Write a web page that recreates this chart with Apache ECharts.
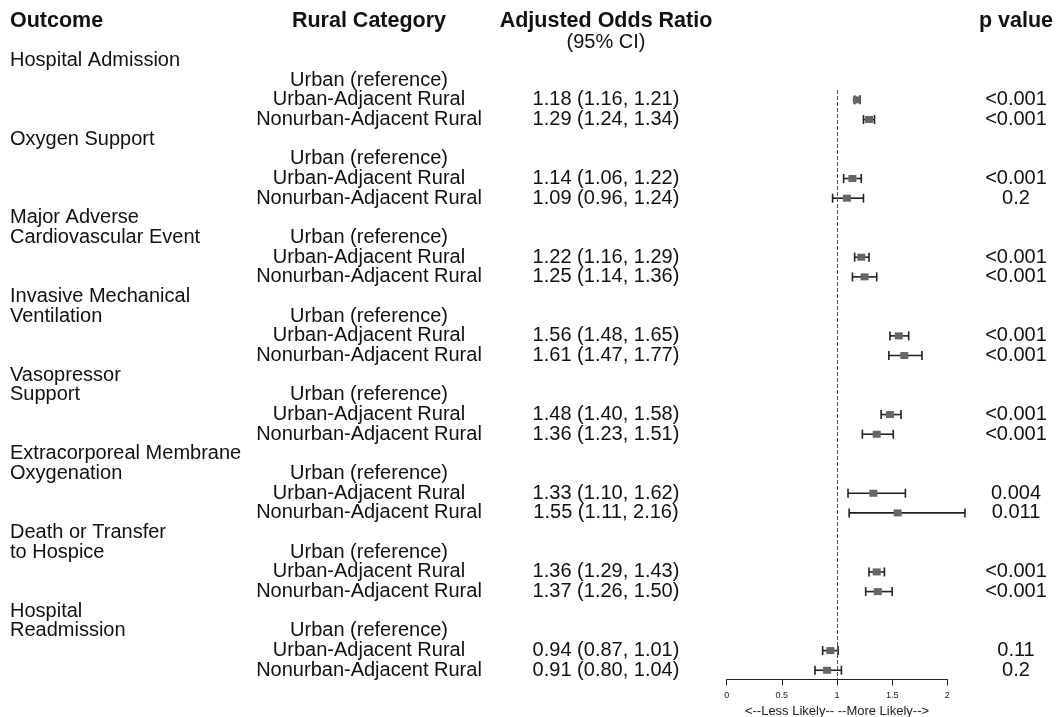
<!DOCTYPE html>
<html>
<head>
<meta charset="utf-8">
<script src="https://cdn.jsdelivr.net/npm/echarts@6/dist/echarts.min.js"></script>
<style>
html,body{margin:0;padding:0;background:#fff;}
#main{width:1057px;height:717px;}
</style>
</head>
<body>
<div id="main"></div>
<script>
// ---------- data ----------
const outcomes = [
  ["Hospital Admission"],
  ["Oxygen Support"],
  ["Major Adverse", "Cardiovascular Event"],
  ["Invasive Mechanical", "Ventilation"],
  ["Vasopressor", "Support"],
  ["Extracorporeal Membrane", "Oxygenation"],
  ["Death or Transfer", "to Hospice"],
  ["Hospital", "Readmission"]
];
const categories = ["Urban (reference)", "Urban-Adjacent Rural", "Nonurban-Adjacent Rural"];
const orUA = [1.18, 1.14, 1.22, 1.56, 1.48, 1.33, 1.36, 0.94];
const loUA = [1.16, 1.06, 1.16, 1.48, 1.40, 1.10, 1.29, 0.87];
const hiUA = [1.21, 1.22, 1.29, 1.65, 1.58, 1.62, 1.43, 1.01];
const pUA  = ["<0.001", "<0.001", "<0.001", "<0.001", "<0.001", "0.004", "<0.001", "0.11"];
const orNU = [1.29, 1.09, 1.25, 1.61, 1.36, 1.55, 1.37, 0.91];
const loNU = [1.24, 0.96, 1.14, 1.47, 1.23, 1.11, 1.26, 0.80];
const hiNU = [1.34, 1.24, 1.36, 1.77, 1.51, 2.16, 1.50, 1.04];
const pNU  = ["<0.001", "0.2", "<0.001", "<0.001", "<0.001", "0.011", "<0.001", "0.2"];
const headers = ["Outcome", "Rural Category", "Adjusted Odds Ratio", "p value"];
const subHeader = "(95% CI)";
const xTicks = [0, 0.5, 1, 1.5, 2];
const axisTitle = "<--Less Likely-- --More Likely-->";
const refValue = 1;

// ---------- build rows ----------
const fmt = v => v.toFixed(2);
const outcomeRows = [], catRows = [], orRows = [], pRows = [], forest = [];
outcomes.forEach((lines, g) => {
  const base = 4 * g;
  lines.forEach((t, i) => outcomeRows.push([1, base + i, t]));
  categories.forEach((c, j) => catRows.push([1, base + 1 + j, c]));
  orRows.push([1, base + 2, fmt(orUA[g]) + " (" + fmt(loUA[g]) + ", " + fmt(hiUA[g]) + ")"]);
  orRows.push([1, base + 3, fmt(orNU[g]) + " (" + fmt(loNU[g]) + ", " + fmt(hiNU[g]) + ")"]);
  pRows.push([1, base + 2, pUA[g]]);
  pRows.push([1, base + 3, pNU[g]]);
  forest.push([orUA[g], loUA[g], hiUA[g], base + 2]);
  forest.push([orNU[g], loNU[g], hiNU[g], base + 3]);
});
const headRow = -2, subRow = -0.9;
const headerRows = [
  [1, headRow, headers[0], 10, 'left'],
  [1, headRow, headers[1], 369, 'center'],
  [1, headRow, headers[2], 606, 'center'],
  [1, headRow, headers[3], 1016, 'center']
];

// ---------- layout ----------
const row0 = 60.5, rowH = 19.67, axisY = 679.5;
const yMin = -row0 / rowH, yMax = (axisY - row0) / rowH;
const FONT = "'Liberation Sans', Arial, sans-serif";

function textSeries(data, x, align, size, weight) {
  return {
    type: 'custom', coordinateSystem: 'cartesian2d', clip: false, silent: true,
    encode: { x: 0, y: 1 },
    data: data.map(d => [d[0], d[1]]),
    renderItem: (params, api) => {
      const d = data[params.dataIndex];
      const y = api.coord([1, api.value(1)])[1];
      return {
        type: 'text',
        style: {
          text: d[2], x: d[3] !== undefined ? d[3] : x, y: y,
          align: d[4] || align, verticalAlign: 'middle',
          fill: '#111', fontSize: size, fontFamily: FONT, fontWeight: weight
        }
      };
    }
  };
}

const chart = echarts.init(document.getElementById('main'), null, { renderer: 'canvas' });
chart.setOption({
  backgroundColor: '#fff',
  animation: false,
  grid: { left: 726.7, right: 1057 - 947.3, top: 0, bottom: 717 - axisY,
          containLabel: false, outerBoundsMode: 'none' },
  xAxis: {
    type: 'value', min: 0, max: 2, interval: 0.5,
    splitLine: { show: false },
    axisLine: { show: true, onZero: false, lineStyle: { color: '#222', width: 1 } },
    axisTick: { show: true, length: 6, lineStyle: { color: '#222', width: 1 } },
    axisLabel: { fontSize: 9, color: '#222', margin: 12, fontFamily: FONT,
      formatter: v => { const i = xTicks.indexOf(v); return i >= 0 ? String(xTicks[i]) : ''; } },
    name: axisTitle, nameLocation: 'middle', nameGap: 25,
    nameTextStyle: { fontSize: 13, color: '#222', fontFamily: FONT }
  },
  yAxis: { type: 'value', inverse: true, min: yMin, max: yMax, show: false },
  series: [
    textSeries(headerRows, 0, 'left', 21.5, 'bold'),
    textSeries([[1, subRow, subHeader]], 606, 'center', 20, 'normal'),
    textSeries(outcomeRows, 10, 'left', 20, 'normal'),
    textSeries(catRows, 369, 'center', 20, 'normal'),
    textSeries(orRows, 606, 'center', 20, 'normal'),
    textSeries(pRows, 1016, 'center', 20, 'normal'),
    {
      type: 'custom', coordinateSystem: 'cartesian2d', clip: false, silent: true,
      encode: { x: [0, 1, 2], y: 3 },
      data: forest,
      renderItem: (params, api) => {
        const r = api.value(3);
        const c = api.coord([api.value(0), r]);
        const lo = api.coord([api.value(1), r]);
        const hi = api.coord([api.value(2), r]);
        const cap = 4.5, stroke = { stroke: '#222', lineWidth: 1.6 };
        return {
          type: 'group',
          children: [
            { type: 'line', shape: { x1: lo[0], y1: lo[1], x2: hi[0], y2: hi[1] }, style: stroke },
            { type: 'line', shape: { x1: lo[0], y1: lo[1] - cap, x2: lo[0], y2: lo[1] + cap }, style: stroke },
            { type: 'line', shape: { x1: hi[0], y1: hi[1] - cap, x2: hi[0], y2: hi[1] + cap }, style: stroke },
            { type: 'rect', shape: { x: c[0] - 4, y: c[1] - 3.5, width: 8, height: 7 }, style: { fill: '#666' } }
          ]
        };
      },
      markLine: {
        silent: true, symbol: 'none', animation: false,
        label: { show: false },
        lineStyle: { type: [4, 2], color: '#555', width: 1 },
        data: [[{ coord: [refValue, 1.5] }, { coord: [refValue, yMax] }]]
      }
    }
  ]
});
</script>
</body>
</html>
